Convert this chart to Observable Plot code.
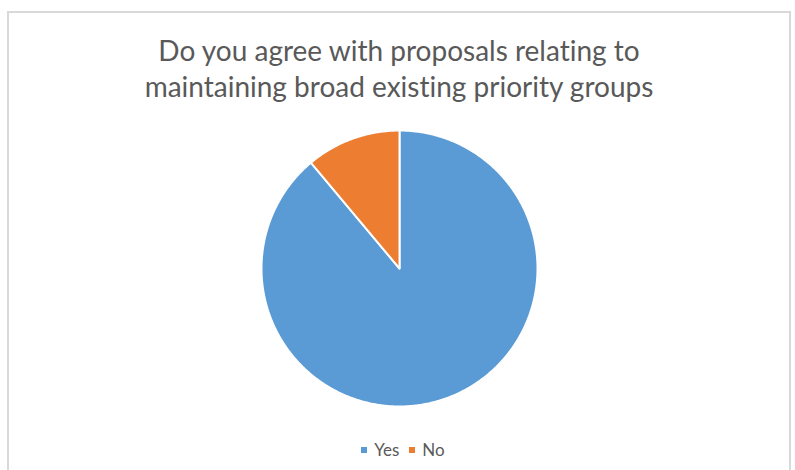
<!DOCTYPE html>
<html><head><meta charset="utf-8">
<script src="https://cdn.jsdelivr.net/npm/d3@7"></script>
<script src="https://cdn.jsdelivr.net/npm/@observablehq/plot@0.6"></script>
<style>
html,body{margin:0;padding:0;background:#fff;}
body{width:795px;height:470px;overflow:hidden;position:relative;font-family:Lato,"Open Sans",sans-serif;font-variant-ligatures:none;}
#frame{position:absolute;left:7px;top:11px;width:780px;height:480px;border:2px solid #d9d9d9;}
#title{position:absolute;left:0;top:32px;width:798px;text-align:center;color:#595959;font-size:28px;line-height:36px;}
#chart{position:absolute;left:0;top:0;}
#legend{position:absolute;top:440px;left:0;width:806px;display:flex;justify-content:center;color:#595959;font-size:17px;line-height:20px;}
.item{display:flex;align-items:center;margin:0 5px;}
.sw{width:6px;height:6px;margin-right:7px;}
</style>
</head><body>
<div id="frame"></div>
<div id="chart"></div>
<div id="title"></div>
<div id="legend"></div>
<script>
const titleLines = ["Do you agree with proposals relating to", "maintaining broad existing priority groups"];
const categories = ["Yes", "No"];
const values = [88.9, 11.1];
const colors = ["#5B9BD5", "#ED7D31"];

document.getElementById("title").innerHTML = titleLines.join("<br>");

const arcs = d3.pie().sort(null)(values);
const features = arcs.map((a, i) => {
  const n = Math.max(4, Math.ceil((a.endAngle - a.startAngle) / (Math.PI / 360)));
  const ring = [[0, 0]];
  for (let k = 0; k <= n; k++) {
    const t = a.startAngle + (a.endAngle - a.startAngle) * k / n;
    ring.push([Math.sin(t), Math.cos(t)]);
  }
  ring.push([0, 0]);
  return {type: "Feature", properties: {category: categories[i], value: values[i]},
          geometry: {type: "Polygon", coordinates: [ring]}};
});

const R = 138, cx = 399, cy = 268;
const plot = Plot.plot({
  width: 795, height: 470, margin: 0,
  projection: {type: () => d3.geoIdentity().reflectY(true).scale(R).translate([cx, cy])},
  color: {domain: categories, range: colors},
  marks: [
    Plot.geo(features, {fill: d => d.properties.category, stroke: "white", strokeWidth: 2, strokeLinejoin: "round"})
  ]
});
document.getElementById("chart").appendChild(plot);

const leg = document.getElementById("legend");
categories.forEach((c, i) => {
  const it = document.createElement("div");
  it.className = "item";
  it.innerHTML = `<span class="sw" style="background:${colors[i]}"></span><span>${c}</span>`;
  leg.appendChild(it);
});
</script>
</body></html>
